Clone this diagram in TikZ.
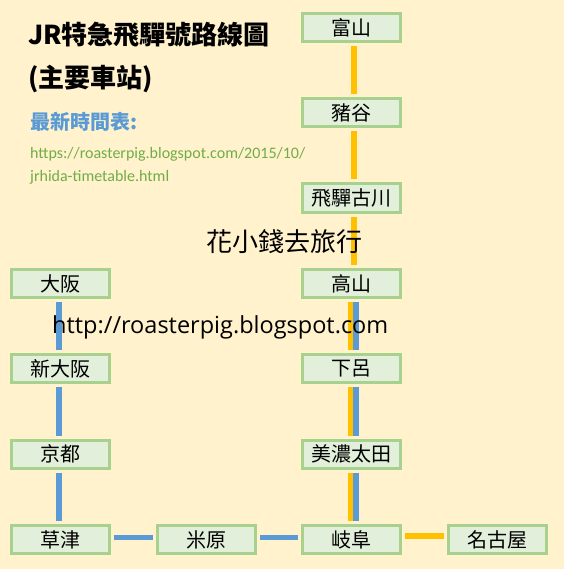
\documentclass[tikz,border=0pt]{standalone}
\usepackage{fontspec}
\newfontfamily\cjk{Noto Sans CJK TC}
\newfontfamily\urlfont{Carlito}
\newfontfamily\webfont{Open Sans}
\usetikzlibrary{positioning}
\definecolor{bgcream}{HTML}{FFF2CC}
\definecolor{boxfill}{HTML}{E2EFDA}
\definecolor{boxdraw}{HTML}{A9D18E}
\definecolor{jryellow}{HTML}{FFC000}
\definecolor{jrblue}{HTML}{5B9BD5}
\definecolor{linkgreen}{HTML}{70AD47}
\tikzset{
    station/.style = {rectangle, line width=3pt, draw=boxdraw, fill=boxfill, minimum width=98pt, minimum height=28pt, inner sep=0pt, font=\cjk\fontsize{20}{20}\selectfont},
    hidaline/.style = {line width=5.5pt, draw=jryellow, shorten >=3pt, shorten <=3pt}, % hida
    jrwline/.style = {line width=5.5pt, draw=jrblue, shorten >=3pt, shorten <=3pt}, % tokaido
    label/.style = {anchor=west, inner sep=0pt}
}
\begin{document}
\begin{tikzpicture}[x=1pt,y=-1pt]
%
\fill[bgcream] (0,0) rectangle (564,569);
\useasboundingbox (0,0) rectangle (564,569);
%
\node[station] at (351.5, 28) (toyama) {富山};
\node[station] at (351.5, 113) (inotani) {豬谷};
\node[station] at (351.5, 198) (furukawa) {飛驒古川};
\node[station] at (351.5, 283.5) (takayama) {高山};
\node[station] at (351.5, 368.5) (gero) {下呂};
\node[station] at (351.5, 454) (minoota) {美濃太田};
\node[station] at (351.5, 539.5) (gifu) {岐阜};
\node[station] at (497.5, 539.5) (nagoya) {名古屋};
\node[station] at (206, 539.5) (maibara) {米原};
\node[station] at (60, 539.5) (kusatsu) {草津};
\node[station] at (60, 454) (kyoto) {京都};
\node[station] at (60, 368.5) (shinosaka) {新大阪};
\node[station] at (60, 283.5) (osaka) {大阪};
%
\draw[hidaline] ([xshift=2.5pt]toyama.south) -- ([xshift=2.5pt]inotani.north);
\draw[hidaline] ([xshift=2.5pt]inotani.south) -- ([xshift=2.5pt]furukawa.north);
\draw[hidaline] ([xshift=2.5pt]furukawa.south) -- ([xshift=2.5pt]takayama.north);
\draw[hidaline] ([xshift=-1pt]takayama.south) -- ([xshift=-1pt]gero.north);
\draw[hidaline] ([xshift=-1pt]gero.south) -- ([xshift=-1pt]minoota.north);
\draw[hidaline] ([xshift=-1pt]minoota.south) -- ([xshift=-1pt]gifu.north);
\draw[jrwline] ([xshift=4.5pt]takayama.south) -- ([xshift=4.5pt]gero.north);
\draw[jrwline] ([xshift=4.5pt]gero.south) -- ([xshift=4.5pt]minoota.north);
\draw[jrwline] ([xshift=4.5pt]minoota.south) -- ([xshift=4.5pt]gifu.north);
\draw[hidaline] ([yshift=3.5pt]gifu.east) -- ([yshift=3.5pt]nagoya.west);
\draw[jrwline] ([yshift=2pt]gifu.west) -- ([yshift=2pt]maibara.east);
\draw[jrwline] ([yshift=2pt]maibara.west) -- ([yshift=2pt]kusatsu.east);
\draw[jrwline] ([xshift=-1pt]kusatsu.north) -- ([xshift=-1pt]kyoto.south);
\draw[jrwline] ([xshift=-1pt]kyoto.north) -- ([xshift=-1pt]shinosaka.south);
\draw[jrwline] ([xshift=-1pt]shinosaka.north) -- ([xshift=-1pt]osaka.south);
%
\node[label, font=\cjk\bfseries\fontsize{26}{26}\selectfont] at (28, 35) (title) {JR特急飛驒號路線圖};
\node[label, font=\cjk\bfseries\fontsize{26}{26}\selectfont] at (28, 79) (subtitle) {(主要車站)};
\node[label, font=\cjk\bfseries\fontsize{20}{20}\selectfont, text=jrblue] at (30, 122) (latest) {最新時間表:};
\node[label, font=\urlfont\fontsize{16}{16}\selectfont, text=linkgreen] at (30, 154) (link1) {https://roasterpig.blogspot.com/2015/10/};
\node[label, font=\urlfont\fontsize{16}{16}\selectfont, text=linkgreen] at (30, 177) (link2) {jrhida-timetable.html};
\node[label, font=\cjk\fontsize{26}{26}\selectfont] at (206, 241.5) (blogname) {花小錢去旅行};
\node[label, font=\webfont\fontsize{23.5}{23.5}\selectfont] at (52, 327) (blogurl) {http://roasterpig.blogspot.com};

\end{tikzpicture}
\end{document}
